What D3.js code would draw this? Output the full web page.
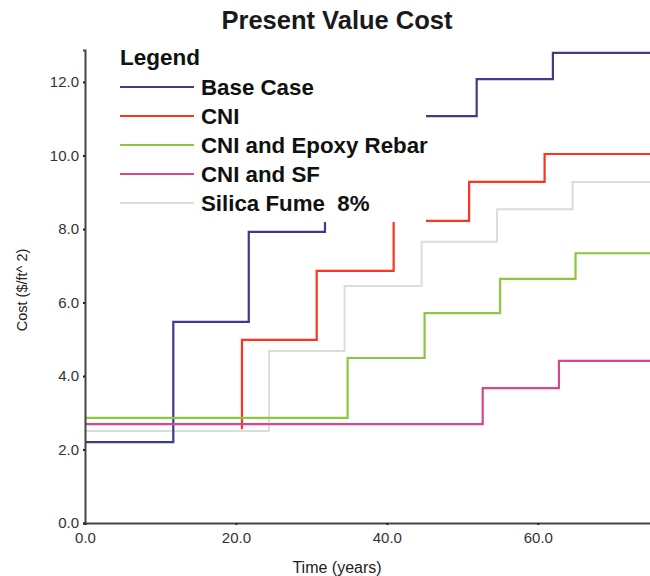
<!DOCTYPE html>
<html>
<head>
<meta charset="utf-8">
<script src="https://cdn.jsdelivr.net/npm/d3@7"></script>
<style>
  body { margin: 0; background: #fff; }
  svg { display: block; }
  .tick text { font-family: "Liberation Sans", Arial, sans-serif; font-size: 15px; fill: #333; }
</style>
</head>
<body>
<svg id="chart" width="650" height="576"></svg>
<script>
const seriesNames = ["Base Case", "CNI", "CNI and Epoxy Rebar", "CNI and SF", "Silica Fume  8%"];
const seriesColors = ["#3c3c8c", "#ff3322", "#8dc63f", "#d9468c", "#dcdcdc"];

// step times (years) and the level held from each time on
const baseTimes = [0, 11.7, 21.7, 31.8, 41.8, 51.9, 62.0, 76];
const baseCost  = [2.2, 5.47, 7.92, 9.75, 11.07, 12.08, 12.79, 12.79];
const cniTimes  = [20.8, 20.8, 30.7, 40.9, 50.9, 60.9, 76];
const cniCost   = [2.55, 4.98, 6.86, 8.22, 9.28, 10.04, 10.04];
const epoxyTimes = [0, 34.8, 45.0, 55.0, 65.0, 76];
const epoxyCost  = [2.86, 4.49, 5.71, 6.64, 7.34, 7.34];
const sfTimes = [0, 52.7, 62.8, 76];
const sfCost  = [2.69, 3.67, 4.41, 4.41];
const silicaTimes = [0, 24.4, 34.4, 44.6, 54.6, 64.6, 76];
const silicaCost  = [2.5, 4.68, 6.45, 7.65, 8.54, 9.28, 9.28];

const xTicks = [0, 20, 40, 60];
const yTicks = [0, 2, 4, 6, 8, 10, 12];

const margin = {top: 50, left: 85, bottom: 53};
const height = 576;

const series = [
  {times: baseTimes, cost: baseCost},
  {times: cniTimes, cost: cniCost},
  {times: epoxyTimes, cost: epoxyCost},
  {times: sfTimes, cost: sfCost},
  {times: silicaTimes, cost: silicaCost}
];

const svg = d3.select("#chart");

const xScale = d3.scaleLinear().domain([0, 75]).range([margin.left, 651]);
const yScale = d3.scaleLinear().domain([0, 12.87]).range([height - margin.bottom, margin.top]);

const line = d3.line()
  .x(d => xScale(d[0]))
  .y(d => yScale(d[1]))
  .curve(d3.curveStepAfter);

// draw order: silica fume sits on top of the CNI start
const order = [1, 4, 0, 2, 3];
svg.append("g")
  .selectAll("path")
  .data(order)
  .enter()
  .append("path")
  .attr("d", i => line(d3.zip(series[i].times, series[i].cost)))
  .attr("fill", "none")
  .attr("stroke", i => seriesColors[i])
  .attr("stroke-width", i => i == 4 ? 2 : 2.2);

// legend box hides the lines behind it
svg.append("rect")
  .attr("x", 100).attr("y", 36)
  .attr("width", 326).attr("height", 186)
  .attr("fill", "#fff");

const xAxis = d3.axisBottom(xScale).tickValues(xTicks).tickFormat(d3.format(".1f")).tickSize(2).tickPadding(7);
const yAxis = d3.axisLeft(yScale).tickValues(yTicks).tickFormat(d3.format(".1f")).tickSize(2).tickPadding(4);

svg.append("g")
  .attr("transform", `translate(0,${height - margin.bottom})`)
  .call(xAxis)
  .call(g => g.select(".domain").attr("stroke", "#444").attr("stroke-width", 2))
  .call(g => g.selectAll(".tick line").attr("stroke", "#222").attr("stroke-width", 2));

svg.append("g")
  .attr("transform", `translate(${margin.left},0)`)
  .call(yAxis)
  .call(g => g.select(".domain").attr("stroke", "#444").attr("stroke-width", 2))
  .call(g => g.selectAll(".tick line").attr("stroke", "#222").attr("stroke-width", 2));

svg.append("text")
  .attr("x", 337).attr("y", 29)
  .attr("text-anchor", "middle")
  .style("font", "bold 25.5px 'Liberation Sans', Arial, sans-serif")
  .attr("fill", "#1a1a1a")
  .text("Present Value Cost");

svg.append("text")
  .attr("x", 337).attr("y", 573)
  .attr("text-anchor", "middle")
  .style("font", "16px 'Liberation Sans', Arial, sans-serif")
  .attr("fill", "#222")
  .text("Time (years)");

svg.append("text")
  .attr("transform", "translate(27,290) rotate(-90)")
  .attr("text-anchor", "middle")
  .style("font", "14.5px 'Liberation Sans', Arial, sans-serif")
  .style("white-space", "pre")
  .attr("fill", "#222")
  .text("Cost ($/ft^ 2)");

const legend = svg.append("g");
legend.append("text")
  .attr("x", 120).attr("y", 65)
  .style("font", "bold 22.5px 'Liberation Sans', Arial, sans-serif")
  .attr("fill", "#111")
  .text("Legend");

const item = legend.selectAll(".item")
  .data(seriesNames)
  .enter()
  .append("g")
  .attr("transform", (d, i) => `translate(0,${87 + i * 29})`);

item.append("line")
  .attr("x1", 120).attr("x2", 194)
  .attr("stroke", (d, i) => seriesColors[i])
  .attr("stroke-width", 2.2);

item.append("text")
  .attr("x", 201).attr("y", 8)
  .style("font", "bold 22.3px 'Liberation Sans', Arial, sans-serif")
  .style("white-space", "pre")
  .attr("fill", "#111")
  .text(d => d);
</script>
</body>
</html>
